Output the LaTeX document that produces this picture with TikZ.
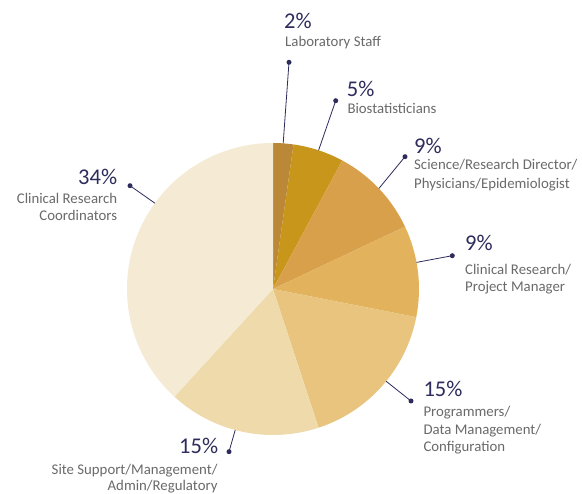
\documentclass[tikz,border=0pt]{standalone}
\usepackage{fontspec}
\setmainfont{Carlito}
\definecolor{navy}{HTML}{2D2C5C}
\definecolor{labgray}{HTML}{6A6A6A}
\definecolor{sA}{HTML}{BB8838}
\definecolor{sB}{HTML}{C9961C}
\definecolor{sC}{HTML}{D9A04B}
\definecolor{sD}{HTML}{E2B35C}
\definecolor{sE}{HTML}{E8C47E}
\definecolor{sF}{HTML}{EEDAAA}
\definecolor{sG}{HTML}{F5EBD5}
\begin{document}
\begin{tikzpicture}[x=1pt,y=1pt,
  pct/.style={text=navy, font=\fontsize{22.5}{22.5}\selectfont, inner sep=0pt},
  lbl/.style={text=labgray, font=\fontsize{14.8}{17}\selectfont, inner sep=0pt},
  leaderdot/.style={circle, fill=navy, inner sep=0pt, minimum size=5pt},
  leader/.style={draw=navy, line width=0.8pt}]
\useasboundingbox (0,0) rectangle (582,494);
\fill[white] (0,0) rectangle (582,494);
\coordinate (C) at (273,205);
% slices (clockwise from top)
\fill[sA] (C) -- ++(90:146pt) arc[start angle=90, end angle=81.91, radius=146pt] -- cycle;
\fill[sB] (C) -- ++(81.91:146pt) arc[start angle=81.91, end angle=61.69, radius=146pt] -- cycle;
\fill[sC] (C) -- ++(61.69:146pt) arc[start angle=61.69, end angle=25.28, radius=146pt] -- cycle;
\fill[sD] (C) -- ++(25.28:146pt) arc[start angle=25.28, end angle=-11.12, radius=146pt] -- cycle;
\fill[sE] (C) -- ++(-11.12:146pt) arc[start angle=-11.12, end angle=-71.80, radius=146pt] -- cycle;
\fill[sF] (C) -- ++(-71.80:146pt) arc[start angle=-71.80, end angle=-132.47, radius=146pt] -- cycle;
\fill[sG] (C) -- ++(-132.47:146pt) arc[start angle=-132.47, end angle=-270, radius=146pt] -- cycle;
% leader end points on the pie
\path (C) ++(86:146pt) coordinate (e1);
\path (C) ++(71.8:146pt) coordinate (e2);
\path (C) ++(43.5:146pt) coordinate (e3);
\path (C) ++(10.5:146pt) coordinate (e4);
\path (C) ++(-39.2:146pt) coordinate (e5);
\path (C) ++(-105:146pt) coordinate (e6);
\path (C) ++(144:146pt) coordinate (e7);
% dots
\node[leaderdot] (d1) at (289,431.7) {};
\node[leaderdot] (d2) at (335.7,393.3) {};
\node[leaderdot] (d3) at (405,337.3) {};
\node[leaderdot] (d4) at (452.3,238.3) {};
\node[leaderdot] (d5) at (411,93) {};
\node[leaderdot] (d6) at (229,42.3) {};
\node[leaderdot] (d7) at (130,308.3) {};
\foreach \i in {1,...,7} {\draw[leader] (d\i.center) -- (e\i);}
% labels
\node[pct, anchor=base west] (p1) at (284,465.7) {2\%};
\node[lbl, anchor=base west] (l1a) at (285,447.3) {Laboratory Staff};
\node[pct, anchor=base west] (p2) at (346.7,397.3) {5\%};
\node[lbl, anchor=base west] (l2a) at (347.3,380.7) {Biostatisticians};
\node[pct, anchor=base west] (p3) at (414,340.7) {9\%};
\node[lbl, anchor=base west] (l3a) at (414,324) {Science/Research Director/};
\node[lbl, anchor=base west] (l3b) at (414,305.7) {Physicians/Epidemiologist};
\node[pct, anchor=base west] (p4) at (465,243.3) {9\%};
\node[lbl, anchor=base west] (l4a) at (465,219) {Clinical Research/};
\node[lbl, anchor=base west] (l4b) at (465,202.3) {Project Manager};
\node[pct, anchor=base west] (p5) at (423.3,97.3) {15\%};
\node[lbl, anchor=base west] (l5a) at (423.3,77.3) {Programmers/};
\node[lbl, anchor=base west] (l5b) at (423.3,59) {Data Management/};
\node[lbl, anchor=base west] (l5c) at (423.3,42.3) {Configuration};
\node[pct, anchor=base east] (p6) at (218.3,40.7) {15\%};
\node[lbl, anchor=base east] (l6a) at (217.7,19) {Site Support/Management/};
\node[lbl, anchor=base east] (l6b) at (217.7,3.3) {Admin/Regulatory};
\node[pct, anchor=base east] (p7) at (117.3,309) {34\%};
\node[lbl, anchor=base east] (l7a) at (117.3,290.7) {Clinical Research};
\node[lbl, anchor=base east] (l7b) at (117.3,273.3) {Coordinators};
\end{tikzpicture}
\end{document}
